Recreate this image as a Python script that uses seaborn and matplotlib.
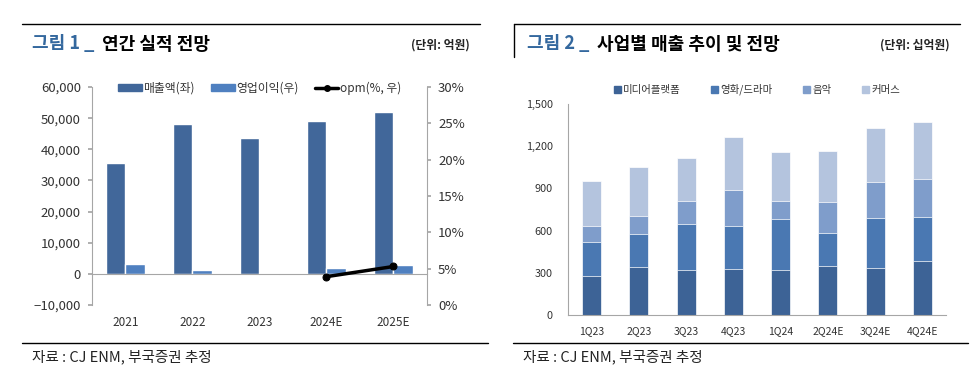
import numpy as np
import pandas as pd
import seaborn as sns
import matplotlib.pyplot as plt
from matplotlib.lines import Line2D
from matplotlib.patches import Patch
from matplotlib.ticker import FuncFormatter, FixedLocator

# --- DATA ---
# Chart 1: annual results (unit: 억원)
YEARS = ["2021", "2022", "2023", "2024E", "2025E"]
SALES = [35700, 48000, 43700, 49200, 52000]
OP_PROFIT = [3100, 1300, -300, 1900, 2700]
OPM_YEARS = ["2024E", "2025E"]
OPM = [3.9, 5.3]

# Chart 2: revenue by business (unit: 십억원)
QUARTERS = ["1Q23", "2Q23", "3Q23", "4Q23", "1Q24", "2Q24E", "3Q24E", "4Q24E"]
MEDIA = [278, 342, 318, 330, 318, 349, 337, 384]
FILM_DRAMA = [241, 236, 328, 302, 363, 233, 352, 314]
MUSIC = [115, 125, 163, 255, 130, 224, 259, 271]
COMMERCE = [319, 351, 304, 377, 347, 361, 380, 403]
SEGMENTS = ["미디어플랫폼", "영화/드라마", "음악", "커머스"]

# --- STYLE ---
sns.set_theme(style="white")
plt.rcParams["font.family"] = ["Noto Sans CJK KR", "DejaVu Sans"]
plt.rcParams["axes.unicode_minus"] = False

C_SALES = "#41679A"
C_OP = "#4F80C0"
SEG_COLORS = ["#3D6396", "#4A78B2", "#7F9DCB", "#B4C4DE"]
TITLE_BLUE = "#34689E"
AX_GREY = "#A6A6A6"
TXT = "#333333"

fig = plt.figure(figsize=(9.78, 3.87), dpi=100)
W, H = 978, 387


def fx(px):
    return px / W


def fy(py):
    return 1 - py / H


# --- CHART 1 ---
ax1 = fig.add_axes([fx(92), fy(305), fx(427) - fx(92), fy(87) - fy(305)])
df1 = pd.DataFrame({
    "year": YEARS * 2,
    "value": SALES + OP_PROFIT,
    "series": ["매출액(좌)"] * len(YEARS) + ["영업이익(우)"] * len(YEARS),
})
sns.barplot(data=df1, x="year", y="value", hue="series", order=YEARS,
            palette=[C_SALES, C_OP], width=0.57, gap=0, dodge=True,
            legend=False, ax=ax1, saturation=1)
ax1.set_xlim(-0.5, len(YEARS) - 0.5)
ax1.set_ylim(-10000, 60000)
ax1.set_yticks(np.arange(-10000, 60001, 10000))
ax1.yaxis.set_major_formatter(FuncFormatter(lambda v, p: f"{int(v):,}".replace("-", "\u2212")))
ax1.set_xlabel("")
ax1.set_ylabel("")
for s in ["top", "right"]:
    ax1.spines[s].set_visible(False)
ax1.spines["left"].set_color(AX_GREY)
ax1.spines["left"].set_linewidth(0.8)
ax1.spines["bottom"].set_position(("data", 0))
ax1.spines["bottom"].set_color(AX_GREY)
ax1.spines["bottom"].set_linewidth(0.8)
ax1.tick_params(axis="y", direction="out", length=3, color=AX_GREY, labelsize=9.5,
                labelcolor=TXT, pad=5)
ax1.xaxis.set_minor_locator(FixedLocator(np.arange(0.5, len(YEARS) - 1, 1)))
ax1.tick_params(axis="x", which="major", length=0, labelsize=8.5, labelcolor=TXT, pad=30)
ax1.tick_params(axis="x", which="minor", direction="out", length=3, color=AX_GREY)

ax1b = ax1.twinx()
opm_x = [YEARS.index(y) for y in OPM_YEARS]
sns.lineplot(x=opm_x, y=OPM, ax=ax1b, color="black", linewidth=2.5, marker="o",
             markersize=5, markeredgecolor="black")
ax1b.set_ylim(0, 30)
ax1b.set_yticks(np.arange(0, 31, 5))
ax1b.yaxis.set_major_formatter(FuncFormatter(lambda v, p: f"{int(v)}%"))
for s in ["top", "left", "bottom"]:
    ax1b.spines[s].set_visible(False)
ax1b.spines["right"].set_color(AX_GREY)
ax1b.spines["right"].set_linewidth(0.8)
ax1b.tick_params(axis="y", direction="out", length=3, color=AX_GREY, labelsize=9.5,
                 labelcolor=TXT, pad=5)
ax1b.set_xlim(-0.5, len(YEARS) - 0.5)

handles1 = [Patch(color=C_SALES, label="매출액(좌)"),
            Patch(color=C_OP, label="영업이익(우)"),
            Line2D([], [], color="black", linewidth=2.5, marker="o", markersize=4,
                   label="opm(%, 우)")]
ax1.legend(handles=handles1, loc="upper center", bbox_to_anchor=(0.5, 1.075), ncol=3,
           frameon=False, fontsize=8.5, handlelength=2.0, handleheight=0.6,
           handletextpad=0.1, columnspacing=1.4, labelcolor=TXT)

# --- CHART 2 ---
ax2 = fig.add_axes([fx(568), fy(315), fx(946) - fx(568), fy(104) - fy(315)])
seg_values = [MEDIA, FILM_DRAMA, MUSIC, COMMERCE]
cum = np.cumsum(np.array(seg_values), axis=0)
for i in range(len(SEGMENTS) - 1, -1, -1):
    sns.barplot(x=QUARTERS, y=cum[i], order=QUARTERS, color=SEG_COLORS[i],
                width=0.4, saturation=1, ax=ax2, edgecolor="white", linewidth=0.5)
ax2.set_xlim(-0.5, len(QUARTERS) - 0.5)
ax2.set_ylim(0, 1500)
ax2.set_yticks(np.arange(0, 1501, 300))
ax2.yaxis.set_major_formatter(FuncFormatter(lambda v, p: f"{int(v):,}"))
ax2.set_xlabel("")
ax2.set_ylabel("")
for s in ["top", "right"]:
    ax2.spines[s].set_visible(False)
for s in ["left", "bottom"]:
    ax2.spines[s].set_color(AX_GREY)
    ax2.spines[s].set_linewidth(0.8)
ax2.tick_params(axis="y", direction="out", length=3, color=AX_GREY, labelsize=7.8,
                labelcolor=TXT, pad=8)
ax2.xaxis.set_minor_locator(FixedLocator(np.arange(0.5, len(QUARTERS), 1)))
ax2.tick_params(axis="x", which="major", length=0, labelsize=7.5, labelcolor=TXT, pad=8)
ax2.tick_params(axis="x", which="minor", direction="out", length=3, color=AX_GREY)

handles2 = [Patch(color=c, label=l) for c, l in zip(SEG_COLORS, SEGMENTS)]
ax2.legend(handles=handles2, loc="upper center", bbox_to_anchor=(0.5, 1.14), ncol=4,
           frameon=False, fontsize=7.5, handlelength=0.7, handleheight=0.7,
           handletextpad=0.2, columnspacing=2.9, labelcolor=TXT)

# --- TITLES, RULES, SOURCES ---
rule_kw = dict(color="black", linewidth=1.0)
fig.add_artist(Line2D([fx(22), fx(480)], [fy(24), fy(24)], **rule_kw))
fig.add_artist(Line2D([fx(514), fx(960)], [fy(24), fy(24)], **rule_kw))
fig.add_artist(Line2D([fx(514), fx(514)], [fy(24), fy(57)], **rule_kw))
fig.add_artist(Line2D([fx(22), fx(488)], [fy(343), fy(343)], **rule_kw))
fig.add_artist(Line2D([fx(513), fx(968)], [fy(343), fy(343)], **rule_kw))

t1 = fig.text(fx(32), fy(44), "그림 1 _", color=TITLE_BLUE, fontsize=13,
              fontweight="bold", va="center")
t2 = fig.text(fx(527), fy(44), "그림 2 _", color=TITLE_BLUE, fontsize=13,
              fontweight="bold", va="center")
fig.canvas.draw()
r = fig.canvas.get_renderer()
for t, s in [(t1, "연간 실적 전망"), (t2, "사업별 매출 추이 및 전망")]:
    bb = t.get_window_extent(r)
    fig.text(bb.x1 / W + fx(8), fy(44), s, color="black", fontsize=13,
             fontweight="bold", va="center")

fig.text(fx(470), fy(45), "(단위: 억원)", ha="right", va="center", fontsize=8.5,
         fontweight="bold", color="#222222")
fig.text(fx(950), fy(45), "(단위: 십억원)", ha="right", va="center", fontsize=8.5,
         fontweight="bold", color="#222222")

fig.text(fx(32), fy(357), "자료 : CJ ENM, 부국증권 추정", va="center", fontsize=10.5, color="#222222")
fig.text(fx(523), fy(357), "자료 : CJ ENM, 부국증권 추정", va="center", fontsize=10.5, color="#222222")

fig.savefig("out.png", dpi=100)
